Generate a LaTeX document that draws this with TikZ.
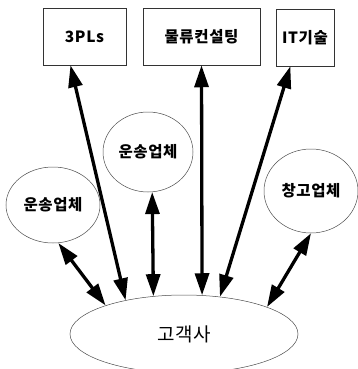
\documentclass[tikz,border=0pt]{standalone}
\usepackage{fontspec}
\newfontfamily\krfont{Noto Sans CJK KR}[LetterSpace=4]
\usetikzlibrary{arrows.meta,shapes.geometric}
\tikzset{
  box/.style={draw=black!80,line width=0.5pt,minimum height=57pt,inner sep=0pt,font=\krfont\bfseries\fontsize{15.5}{15.5}\selectfont},
  blob/.style={ellipse,draw=black!70,line width=0.5pt,inner sep=0pt,font=\krfont\bfseries\fontsize{15.5}{15.5}\selectfont},
  arr/.style={line width=3.3pt,{Triangle[length=22pt,width=14pt]}-{Triangle[length=22pt,width=14pt]}}
}
\begin{document}
\begin{tikzpicture}[x=1pt,y=-1pt]
    \useasboundingbox (0,0) rectangle (357,369);
    \node[box,minimum width=83pt](pl) at (84.5,36.5) {3PLs};
    \node[box,minimum width=117pt](cs) at (201.5,36.5) {물류컨설팅};
    \node[box,minimum width=58pt](it) at (305,37.5) {IT기술};
    \node[blob,minimum width=90pt,minimum height=80pt](mv) at (148,152) {운송업체};
    \node[blob,minimum width=94pt,minimum height=76pt](lv) at (53,205) {운송업체};
    \node[blob,minimum width=94pt,minimum height=84pt](wh) at (311,191) {창고업체};
    \node[ellipse,draw=black!70,line width=0.5pt,minimum width=228pt,minimum height=78pt,
      font=\krfont\fontsize{19}{19}\selectfont](cu) at (184,334) {고객사};
    \path[arr] (pl.-116) edge (cu.150);
    \path[arr] (cs.south) edge (cu.65);
    \path[arr] (it.-117) edge (cu.46);
    \path[arr] (mv.-84) edge (cu.129);
    \path[arr] (lv.-82) edge (cu.160);
    \path[arr] (wh.-90) edge (cu.18);
  \end{tikzpicture}
\end{document}
